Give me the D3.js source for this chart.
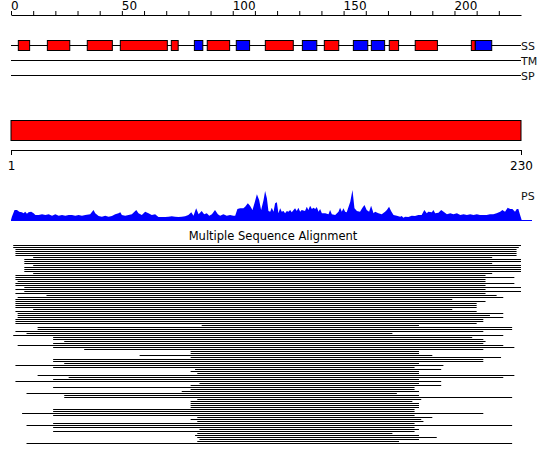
<!DOCTYPE html>
<html>
<head>
<meta charset="utf-8">
<script src="https://cdn.jsdelivr.net/npm/d3@7"></script>
<style>
  body { margin: 0; background: #fff; }
  svg { display: block; font-family: "DejaVu Sans", sans-serif; }
</style>
</head>
<body>
<div id="chart"></div>
<script>
var seqLength = 230;
var topTicks = d3.range(0, 230, 10);
var bottomTicks = [1, 230];

// secondary structure elements (H = helix, E = strand)
var ssStart = [3.3, 16.4, 34.4, 49.3, 72.3, 82.7, 88.5, 101.6, 114.7, 131.4, 141.3, 154.4, 162.5, 170.6, 182.3, 207.6, 209.4];
var ssEnd   = [8.4, 26.5, 45.7, 70.5, 75.4, 86.5, 98.6, 107.6, 127.3, 137.9, 147.8, 160.9, 168.5, 174.8, 192.3, 209.4, 216.8];
var ssType  = ['H', 'H', 'H', 'H', 'H', 'E', 'H', 'E', 'H', 'E', 'H', 'E', 'E', 'H', 'H', 'H', 'E'];
var trackNames = ['SS', 'TM', 'SP'];

var domainStart = [0];
var domainEnd = [230];

// PS profile
var psPos = [
  0, 0.4, 1.6, 2.7, 3.7, 4.9, 5.7, 6.4, 7.2, 7.9,
  9.1, 10.2, 11, 12.5, 14, 15.5, 17, 18.5, 20, 21.5,
  23, 24.5, 26, 27.5, 29, 30.5, 32, 33.5, 35.7, 37.2,
  38, 39.5, 41, 42.5, 44, 45.5, 47, 48.5, 49.3, 50,
  51.5, 53, 54.5, 56.5, 57.5, 59, 60.5, 62, 63.5, 65,
  66.5, 68, 69.5, 71, 72.5, 74, 75.5, 77, 78.5, 80,
  81.3, 82.3, 83.5, 84.6, 86, 87.1, 88.3, 89.4, 90.6, 92,
  93.3, 94.3, 95.8, 97.3, 98.8, 100.3, 101.1, 102.1, 103.3, 104.8,
  105.6, 106.8, 107.8, 108.9, 109.8, 110.9, 111.9, 112.8, 113.9, 114.6,
  115.4, 116.1, 116.9, 117.6, 118.4, 119.1, 119.9, 120.6, 121.4, 122.1,
  122.9, 123.6, 124.4, 125.1, 125.9, 126.6, 128.1, 128.9, 129.6, 130.4,
  131.1, 132.6, 133.4, 134.1, 134.9, 135.7, 136.4, 137.2, 137.9, 138.7,
  139.4, 140.2, 141.7, 143.2, 143.9, 144.7, 146.2, 147.7, 148.4, 149.2,
  149.9, 150.7, 151.4, 153, 154, 154.9, 156, 157.4, 158.5, 159.4,
  160.4, 161.5, 162.4, 163.5, 164.2, 165.7, 167.2, 168.7, 169.5, 170.5,
  171.4, 172.5, 174, 175.5, 176.2, 177, 177.7, 179.2, 180.7, 182.2,
  183.7, 185.2, 186.4, 187.5, 188.2, 189.8, 190.5, 191.3, 192.8, 194,
  195.1, 196.6, 198.1, 199.5, 201.1, 202.6, 204.1, 205.6, 207.1, 208.6,
  210.1, 211.5, 213, 214.5, 216, 217.5, 219, 220.6, 221.6, 222.8,
  224, 225.1, 226.1, 227.3, 228.1, 228.8, 229.6, 230.3
];
var psVal = [
  0, 3.3, 10, 10, 8.3, 7.7, 6.7, 8.3, 6.3, 7.7,
  8.3, 6.7, 5, 5, 5.7, 5, 5.7, 4.3, 5.7, 4.3,
  5, 4.3, 5, 5, 4.3, 5, 4.3, 5, 5.7, 10,
  6.7, 4, 3.3, 4.3, 3.3, 4, 5.7, 6.7, 7.7, 5,
  4.3, 5, 5.7, 10, 6.7, 5, 8.3, 6.7, 5, 5.7,
  3, 3, 3, 3.3, 3.7, 3.3, 3, 3.3, 3.7, 5,
  7.7, 4.3, 11.7, 5.7, 9, 5.7, 6.7, 4.3, 5.7, 10,
  5.7, 4.3, 5.7, 4.3, 5, 4.3, 4.3, 11, 11.7, 11.7,
  13.3, 16.7, 14.3, 10, 16.7, 25.7, 20, 10, 20, 29,
  21.7, 9, 8.3, 12.3, 8.3, 16.7, 17.7, 6.7, 11.7, 8.3,
  9, 6.7, 9, 8.3, 10, 7.7, 11.7, 9, 12.3, 8.3,
  10, 9, 13.3, 10, 14.3, 11, 12.3, 11, 13, 8.3,
  11, 6.7, 6.7, 5.7, 10, 5.7, 5, 8.3, 12.3, 8.3,
  11.7, 8.3, 7.7, 18.3, 30, 11.7, 9, 8.3, 12.3, 15,
  10, 8.3, 14.3, 6.7, 8.3, 6.7, 5.7, 8.3, 10, 13.3,
  9, 5, 4.3, 3.3, 4, 2.3, 3.3, 3, 4.3, 4,
  5, 5, 10, 6.7, 8.3, 7.7, 10, 6.7, 7.3, 10,
  8.3, 5.7, 6.7, 5.7, 6.7, 5, 5.7, 5, 5.7, 5,
  5.7, 5, 5, 5, 5.7, 5.7, 6.7, 8.3, 10, 8.3,
  12.3, 11, 11, 8.3, 11, 11, 5, 0
];

// alignment hits, one row each
var msaStart = [
  1, 1, 2, 2, 2, 2, 10, 6, 6, 6,
  10, 6, 6, 6, 10, 2, 2, 2, 3, 2,
  2, 6, 2, 6, 2, 16, 3, 2, 2, 2,
  2, 2, 10, 2, 3, 3, 3, 2, 2, 2,
  86, 12, 12, 2, 7, 1, 19, 19, 24, 19,
  3, 19, 33, 81, 81, 58, 81, 19, 19, 24,
  2, 19, 83, 81, 84, 12, 26, 19, 2, 85,
  81, 19, 81, 77, 7, 24, 24, 84, 81, 81,
  81, 81, 19, 19, 5, 19, 84, 81, 84, 19,
  7, 19, 85, 19, 84, 83, 84, 85, 84, 7
];
var msaEnd = [
  230, 229, 228, 228, 228, 228, 217, 230, 230, 217,
  230, 230, 230, 230, 217, 214, 227, 214, 214, 227,
  214, 230, 214, 230, 214, 219, 222, 199, 214, 210,
  210, 210, 199, 210, 222, 216, 222, 213, 213, 210,
  184, 226, 226, 213, 172, 222, 208, 213, 214, 213,
  222, 227, 213, 184, 184, 190, 221, 213, 213, 184,
  195, 182, 194, 184, 184, 227, 222, 184, 194, 184,
  194, 182, 182, 184, 174, 184, 226, 185, 181, 184,
  184, 184, 182, 182, 213, 182, 190, 185, 186, 182,
  226, 182, 184, 182, 172, 184, 192, 184, 175, 226
];

var width = 550;
var height = 465;
var ssColor = { H: '#ff0000', E: '#0000ff' };

function draw() {
    var svg = d3.select('#chart')
        .append('svg')
        .attr('width', width)
        .attr('height', height);

    svg.append('rect').attr('width', width).attr('height', height).attr('fill', '#fff');

    var x = d3.scaleLinear().domain([0, seqLength]).range([11, 521]);

    // residue ruler on top
    var topAxis = d3.axisTop(x)
        .tickValues(topTicks)
        .tickSize(4)
        .tickSizeOuter(0)
        .tickPadding(1)
        .tickFormat(function (d) { return d % 50 == 0 ? d : ''; });
    var gTop = svg.append('g').attr('transform', 'translate(0,15)').call(topAxis);
    gTop.selectAll('text')
        .attr('text-anchor', 'start')
        .attr('x', -0.5)
        .attr('font-size', '12px')
        .attr('font-family', 'DejaVu Sans')
        .attr('fill', '#000');

    // SS / TM / SP tracks
    var trackY = d3.scalePoint().domain(trackNames).range([45.5, 75.5]);
    svg.selectAll('.track')
        .data(trackNames)
        .enter()
        .append('line')
        .attr('x1', x(0))
        .attr('x2', x(seqLength))
        .attr('y1', function (d) { return trackY(d); })
        .attr('y2', function (d) { return trackY(d); })
        .attr('stroke', '#000');
    svg.selectAll('.trackLabel')
        .data(trackNames)
        .enter()
        .append('text')
        .attr('x', x(seqLength))
        .attr('y', function (d) { return trackY(d) + 4; })
        .attr('font-size', '11px')
        .attr('fill', '#111')
        .text(function (d) { return d; });

    svg.selectAll('.ss')
        .data(ssStart)
        .enter()
        .append('rect')
        .attr('x', function (d) { return x(d); })
        .attr('y', trackY('SS') - 5)
        .attr('width', function (d, i) { return x(ssEnd[i]) - x(d); })
        .attr('height', 10)
        .attr('fill', function (d, i) { return ssColor[ssType[i]]; })
        .attr('stroke', '#000');

    // domain bar
    svg.selectAll('.domain-bar')
        .data(domainStart)
        .enter()
        .append('rect')
        .attr('x', function (d) { return x(d); })
        .attr('y', 120.5)
        .attr('width', function (d, i) { return x(domainEnd[i]) - x(d); })
        .attr('height', 20)
        .attr('fill', '#ff0000')
        .attr('stroke', '#000');

    var x2 = d3.scaleLinear().domain([1, seqLength]).range([11, 521]);
    var bottomAxis = d3.axisBottom(x2)
        .tickValues(bottomTicks)
        .tickSize(5)
        .tickSizeOuter(0)
        .tickPadding(6);
    var gBot = svg.append('g').attr('transform', 'translate(0,150)').call(bottomAxis);
    gBot.selectAll('text')
        .attr('font-size', '12px')
        .attr('font-family', 'DejaVu Sans')
        .attr('fill', '#000');

    // PS profile
    var yPs = d3.scaleLinear().domain([0, 30]).range([220, 190]);
    var area = d3.area()
        .x(function (d, i) { return x(psPos[i]); })
        .y0(yPs(0))
        .y1(function (d) { return yPs(d); });
    svg.append('path')
        .datum(psVal)
        .attr('d', area)
        .attr('fill', '#0000ff');
    svg.append('line')
        .attr('x1', x(0))
        .attr('x2', x(seqLength) + 11)
        .attr('y1', yPs(0) + 0.5)
        .attr('y2', yPs(0) + 0.5)
        .attr('stroke', '#0000ff');
    svg.append('text')
        .attr('x', x(seqLength))
        .attr('y', 200)
        .attr('font-size', '11px')
        .attr('fill', '#111')
        .text('PS');

    // alignment
    svg.append('text')
        .attr('x', 273)
        .attr('y', 240)
        .attr('text-anchor', 'middle')
        .attr('font-size', '11.5px')
        .attr('fill', '#000')
        .text('Multiple Sequence Alignment');

    var yRow = d3.scaleLinear().domain([0, msaStart.length - 1]).range([245, 443]);
    svg.selectAll('.hit')
        .data(msaStart)
        .enter()
        .append('rect')
        .attr('x', function (d) { return x(d); })
        .attr('y', function (d, i) { return yRow(i); })
        .attr('width', function (d, i) { return x(msaEnd[i]) - x(d); })
        .attr('height', 1)
        .attr('fill', '#000');
}

draw();
</script>
</body>
</html>
